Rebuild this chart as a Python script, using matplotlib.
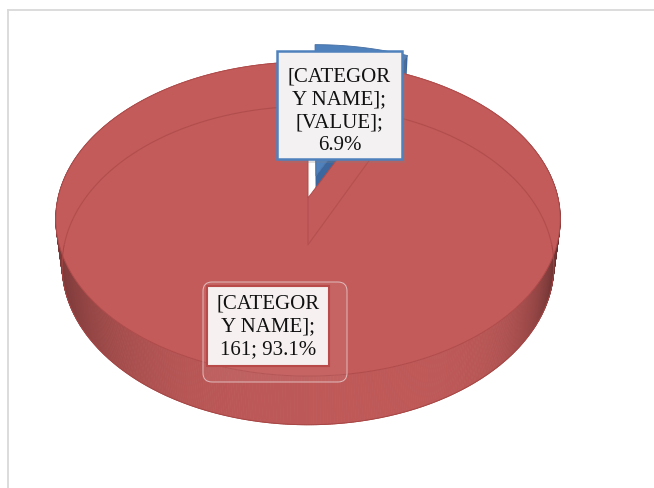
import numpy as np
import matplotlib
matplotlib.use('Agg')
import matplotlib.pyplot as plt
from matplotlib.patches import Polygon, Rectangle, FancyBboxPatch

# 数据
categories = ['[CATEGORY NAME]', '[CATEGORY NAME]']
values = [12, 161]
value_labels = ['[VALUE]', '161']
top_colors = ['#4F81BD', '#C25B5A']
wall_colors = ['#3B679E', '#9E4241']
explode = [0.15, 0.0]

total = sum(values)
pcts = [v / total * 100 for v in values]

# 简单透视投影（像素坐标）
CX, CY = 308, 199
F, D = 1472.5, 5.89
TH = np.radians(38.1)
S, C = np.sin(TH), np.cos(TH)
H = 0.244


def proj(X, Y, Z):
    up = Y * S + Z * C
    fwd = Y * C - Z * S
    w = D + fwd
    return CX + F * X / w, CY - F * up / w, fwd


def rim(phi, z, off):
    X = np.sin(phi) + off[0]
    Y = np.cos(phi) + off[1]
    return proj(X, Y, z * np.ones_like(phi))


def shade(hexcol, k):
    rgb = np.array(matplotlib.colors.to_rgb(hexcol))
    return tuple(np.clip(rgb * k, 0, 1))


fig = plt.figure(figsize=(6.54, 4.89), dpi=100)
ax = fig.add_axes([0, 0, 1, 1])
ax.set_xlim(0, 654)
ax.set_ylim(489, 0)
ax.axis('off')

# 外框
ax.plot([8, 654], [11, 11], color='#D9D9D9', lw=1.3)
ax.plot([8, 8], [11, 489], color='#D9D9D9', lw=1.3)

# 扇区角度（从正后方顺时针）
bounds = np.concatenate([[0], np.cumsum(values)]) / total * 2 * np.pi
slices = []
for i in range(len(values)):
    a0, a1 = bounds[i], bounds[i + 1]
    mid = (a0 + a1) / 2
    off = (explode[i] * np.sin(mid), explode[i] * np.cos(mid))
    slices.append((a0, a1, off))

# 蓝色扇区（在后方，先画）
a0, a1, off = slices[0]
for ang in [a0, a1]:
    ct = proj(off[0], off[1], 0)
    cb = proj(off[0], off[1], -H)
    rt = rim(np.array([ang]), 0, off)
    rb = rim(np.array([ang]), -H, off)
    pts = [(ct[0], ct[1]), (rt[0][0], rt[1][0]), (rb[0][0], rb[1][0]), (cb[0], cb[1])]
    ax.add_patch(Polygon(pts, closed=True, facecolor=wall_colors[0], edgecolor='none'))
phi = np.linspace(a0, a1, 60)
xs, ys, _ = rim(phi, 0, off)
c0 = proj(off[0], off[1], 0)
ax.add_patch(Polygon(np.column_stack([np.r_[c0[0], xs], np.r_[c0[1], ys]]), closed=True,
                     facecolor=top_colors[0], edgecolor='#466FA3', lw=0.6))

# 红色扇区侧面
a0, a1, off = slices[1]
phi = np.linspace(a0, a1, 700)
xt, yt, ft = rim(phi, 0, off)
xb, yb, fb = rim(phi, -H, off)
strips = []
for j in range(len(phi) - 1):
    pm = (phi[j] + phi[j + 1]) / 2
    sn = np.sin(pm)
    if sn > 0:
        k = 0.98 - 0.55 * sn ** 6
    else:
        k = 0.97 - 0.38 * abs(sn) ** 3
    depth = (ft[j] + fb[j]) / 2
    quad = [(xt[j], yt[j]), (xt[j + 1], yt[j + 1]), (xb[j + 1], yb[j + 1]), (xb[j], yb[j])]
    strips.append((depth, quad, shade(top_colors[1], k)))
strips.sort(key=lambda s: -s[0])
for depth, quad, col in strips:
    ax.add_patch(Polygon(quad, closed=True, facecolor=col, edgecolor=col, lw=0.6))

# 底部轮廓
front = (phi > np.pi / 2) & (phi < 3 * np.pi / 2)
ax.plot(xb[front], yb[front], color='#A64645', lw=0.7)

# 红色顶面
c0 = proj(off[0], off[1], 0)
ax.add_patch(Polygon(np.column_stack([np.r_[c0[0], xt], np.r_[c0[1], yt]]), closed=True,
                     facecolor=top_colors[1], edgecolor='#B04C4B', lw=0.7))

# 透出的隐藏边
back = (phi <= np.pi / 2) | (phi >= 3 * np.pi / 2)
xb_b = np.where(back, xb, np.nan)
yb_b = np.where(back, yb, np.nan)
ax.plot(xb_b, yb_b, color='#A34343', lw=0.8, alpha=0.55)
cb = proj(off[0], off[1], -H)
ax.plot([c0[0], cb[0], xb[0]], [c0[1], cb[1], yb[0]], color='#A34343', lw=0.8, alpha=0.45)

# 数据标签
font = dict(family=['Liberation Serif', 'DejaVu Serif'], size=15, color='#111111',
            ha='center', va='center', linespacing=1.27, zorder=6)


def wrap_name(name):
    return name[:8] + '\n' + name[8:] + ';'


lab0 = wrap_name(categories[0]) + '\n' + value_labels[0] + ';\n' + f'{pcts[0]:.1f}%'
lab1 = wrap_name(categories[1]) + '\n' + value_labels[1] + '; ' + f'{pcts[1]:.1f}%'

# 蓝色标签
ax.add_patch(Rectangle((281, 56), 125, 108, facecolor='#7F7F7F', alpha=0.25,
                       edgecolor='none', zorder=4))
ax.add_patch(Rectangle((277, 52), 125, 108, facecolor='#F3F1F1', edgecolor='#4F81BD',
                       lw=1.8, zorder=5))
ax.text(339.5, 111, lab0, **font)

# 红色标签
ax.add_patch(FancyBboxPatch((203, 283), 144, 100, boxstyle='round,pad=0,rounding_size=9',
                            facecolor=(1, 1, 1, 0.06), edgecolor='#E2BDBD', lw=0.7, zorder=4))
ax.add_patch(Rectangle((207, 287), 122, 80, facecolor='#F6F0F0', edgecolor='#B84B4A',
                       lw=1.5, zorder=5))
ax.text(268, 327, lab1, **font)

fig.savefig('out.png', dpi=100)
